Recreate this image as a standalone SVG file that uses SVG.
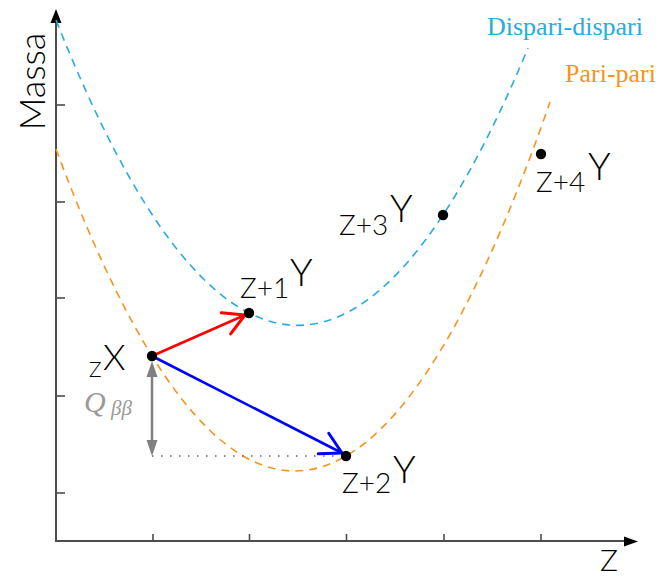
<svg xmlns="http://www.w3.org/2000/svg" width="659" height="578" viewBox="0 0 659 578">
  <style>
    .axis { stroke: #4d4d4d; stroke-width: 2; fill: none; }
    .tick { stroke: #4d4d4d; stroke-width: 1.6; }
    .curve { fill: none; stroke-width: 1.6; stroke-dasharray: 8 6; }
    .odd { stroke: #29abe2; }
    .even { stroke: #f7931e; }
    .dot { fill: #000; }
    .lab { font-family: "Lato", "Open Sans", "Liberation Sans", sans-serif; font-weight: 300; fill: #000; }
    .big { font-size: 38px; }
    .pre { font-size: 28px; }
    .leg { font-family: "Liberation Serif", serif; font-size: 26px; }
    .q { font-family: "Liberation Serif", serif; font-style: italic; fill: #999999; }
  </style>
  <defs>
    <marker id="chev-red" markerUnits="userSpaceOnUse" markerWidth="30" markerHeight="30" viewBox="-22 -13 26 26" refX="0" refY="0" orient="auto" overflow="visible">
      <path d="M-18,-10 L0,0 L-18,10" fill="none" stroke="#ff0000" stroke-width="2.6" stroke-linejoin="round" stroke-linecap="round"/>
    </marker>
    <marker id="chev-blue" markerUnits="userSpaceOnUse" markerWidth="30" markerHeight="30" viewBox="-22 -13 26 26" refX="0" refY="0" orient="auto" overflow="visible">
      <path d="M-18,-10 L0,0 L-18,10" fill="none" stroke="#0000ff" stroke-width="2.6" stroke-linejoin="round" stroke-linecap="round"/>
    </marker>
  </defs>

  <g id="axes">
    <line class="axis" x1="56" y1="541" x2="56" y2="20"/>
    <polygon points="56,9 50.5,23 61.5,23" fill="#000"/>
    <line class="axis" x1="55" y1="541" x2="626" y2="541"/>
    <polygon points="638,541.5 624,536.5 624,546.5" fill="#000"/>
    <line class="tick" x1="56" y1="105" x2="65" y2="105"/>
    <line class="tick" x1="56" y1="202" x2="65" y2="202"/>
    <line class="tick" x1="56" y1="298" x2="65" y2="298"/>
    <line class="tick" x1="56" y1="396" x2="65" y2="396"/>
    <line class="tick" x1="56" y1="493" x2="65" y2="493"/>
    <line class="tick" x1="153" y1="541" x2="153" y2="534"/>
    <line class="tick" x1="249.5" y1="541" x2="249.5" y2="534"/>
    <line class="tick" x1="346.5" y1="541" x2="346.5" y2="534"/>
    <line class="tick" x1="444" y1="541" x2="444" y2="534"/>
    <line class="tick" x1="541" y1="541" x2="541" y2="534"/>
    <text class="lab" font-size="36" transform="translate(45,81.5) rotate(-90)" text-anchor="middle">Massa</text>
    <text class="lab" font-size="30" x="600" y="571">Z</text>
  </g>

  <g id="curves">
    <path class="curve odd" d="M56,20 Q292,616.4 528,48"/>
    <path class="curve even" d="M56,149 Q303,815.7 550,102"/>
    <text class="leg" x="487" y="35" fill="#29abe2">Dispari-dispari</text>
    <text class="leg" x="565" y="82" fill="#f7931e">Pari-pari</text>
  </g>

  <g id="connectors">
    <line x1="152" y1="356" x2="245" y2="315" stroke="#ff0000" stroke-width="2.6" marker-end="url(#chev-red)"/>
    <line x1="152" y1="356" x2="342" y2="453" stroke="#0000ff" stroke-width="2.6" marker-end="url(#chev-blue)"/>
    <line x1="152" y1="456" x2="346" y2="456" stroke="#666" stroke-width="1.5" stroke-dasharray="1.5 7.5"/>
    <line x1="152" y1="375" x2="152" y2="442" stroke="#808080" stroke-width="2.5"/>
    <polygon points="152,361 146.5,377 157.5,377" fill="#808080"/>
    <polygon points="152,456 146.5,440 157.5,440" fill="#808080"/>
    <text class="q" font-size="30" x="84" y="412">Q</text>
    <text class="q" font-size="21" x="111" y="415">ββ</text>
  </g>

  <g id="node-X">
    <circle class="dot" cx="152" cy="356" r="5.2"/>
    <text class="lab" font-size="21" x="89" y="377">Z</text>
    <text class="lab" font-size="36" x="103" y="370">X</text>
  </g>
  <g id="node-Y1">
    <circle class="dot" cx="249" cy="313" r="5.2"/>
    <text class="lab pre" x="240" y="298">Z+1</text>
    <text class="lab big" x="290" y="286">Y</text>
  </g>
  <g id="node-Y2">
    <circle class="dot" cx="346" cy="456" r="5.2"/>
    <text class="lab pre" x="342" y="493">Z+2</text>
    <text class="lab big" x="393" y="483">Y</text>
  </g>
  <g id="node-Y3">
    <circle class="dot" cx="443" cy="215" r="5.2"/>
    <text class="lab pre" x="339" y="235">Z+3</text>
    <text class="lab big" x="390" y="222">Y</text>
  </g>
  <g id="node-Y4">
    <circle class="dot" cx="541" cy="154" r="5.2"/>
    <text class="lab pre" x="536" y="192">Z+4</text>
    <text class="lab big" x="588" y="180">Y</text>
  </g>
</svg>
